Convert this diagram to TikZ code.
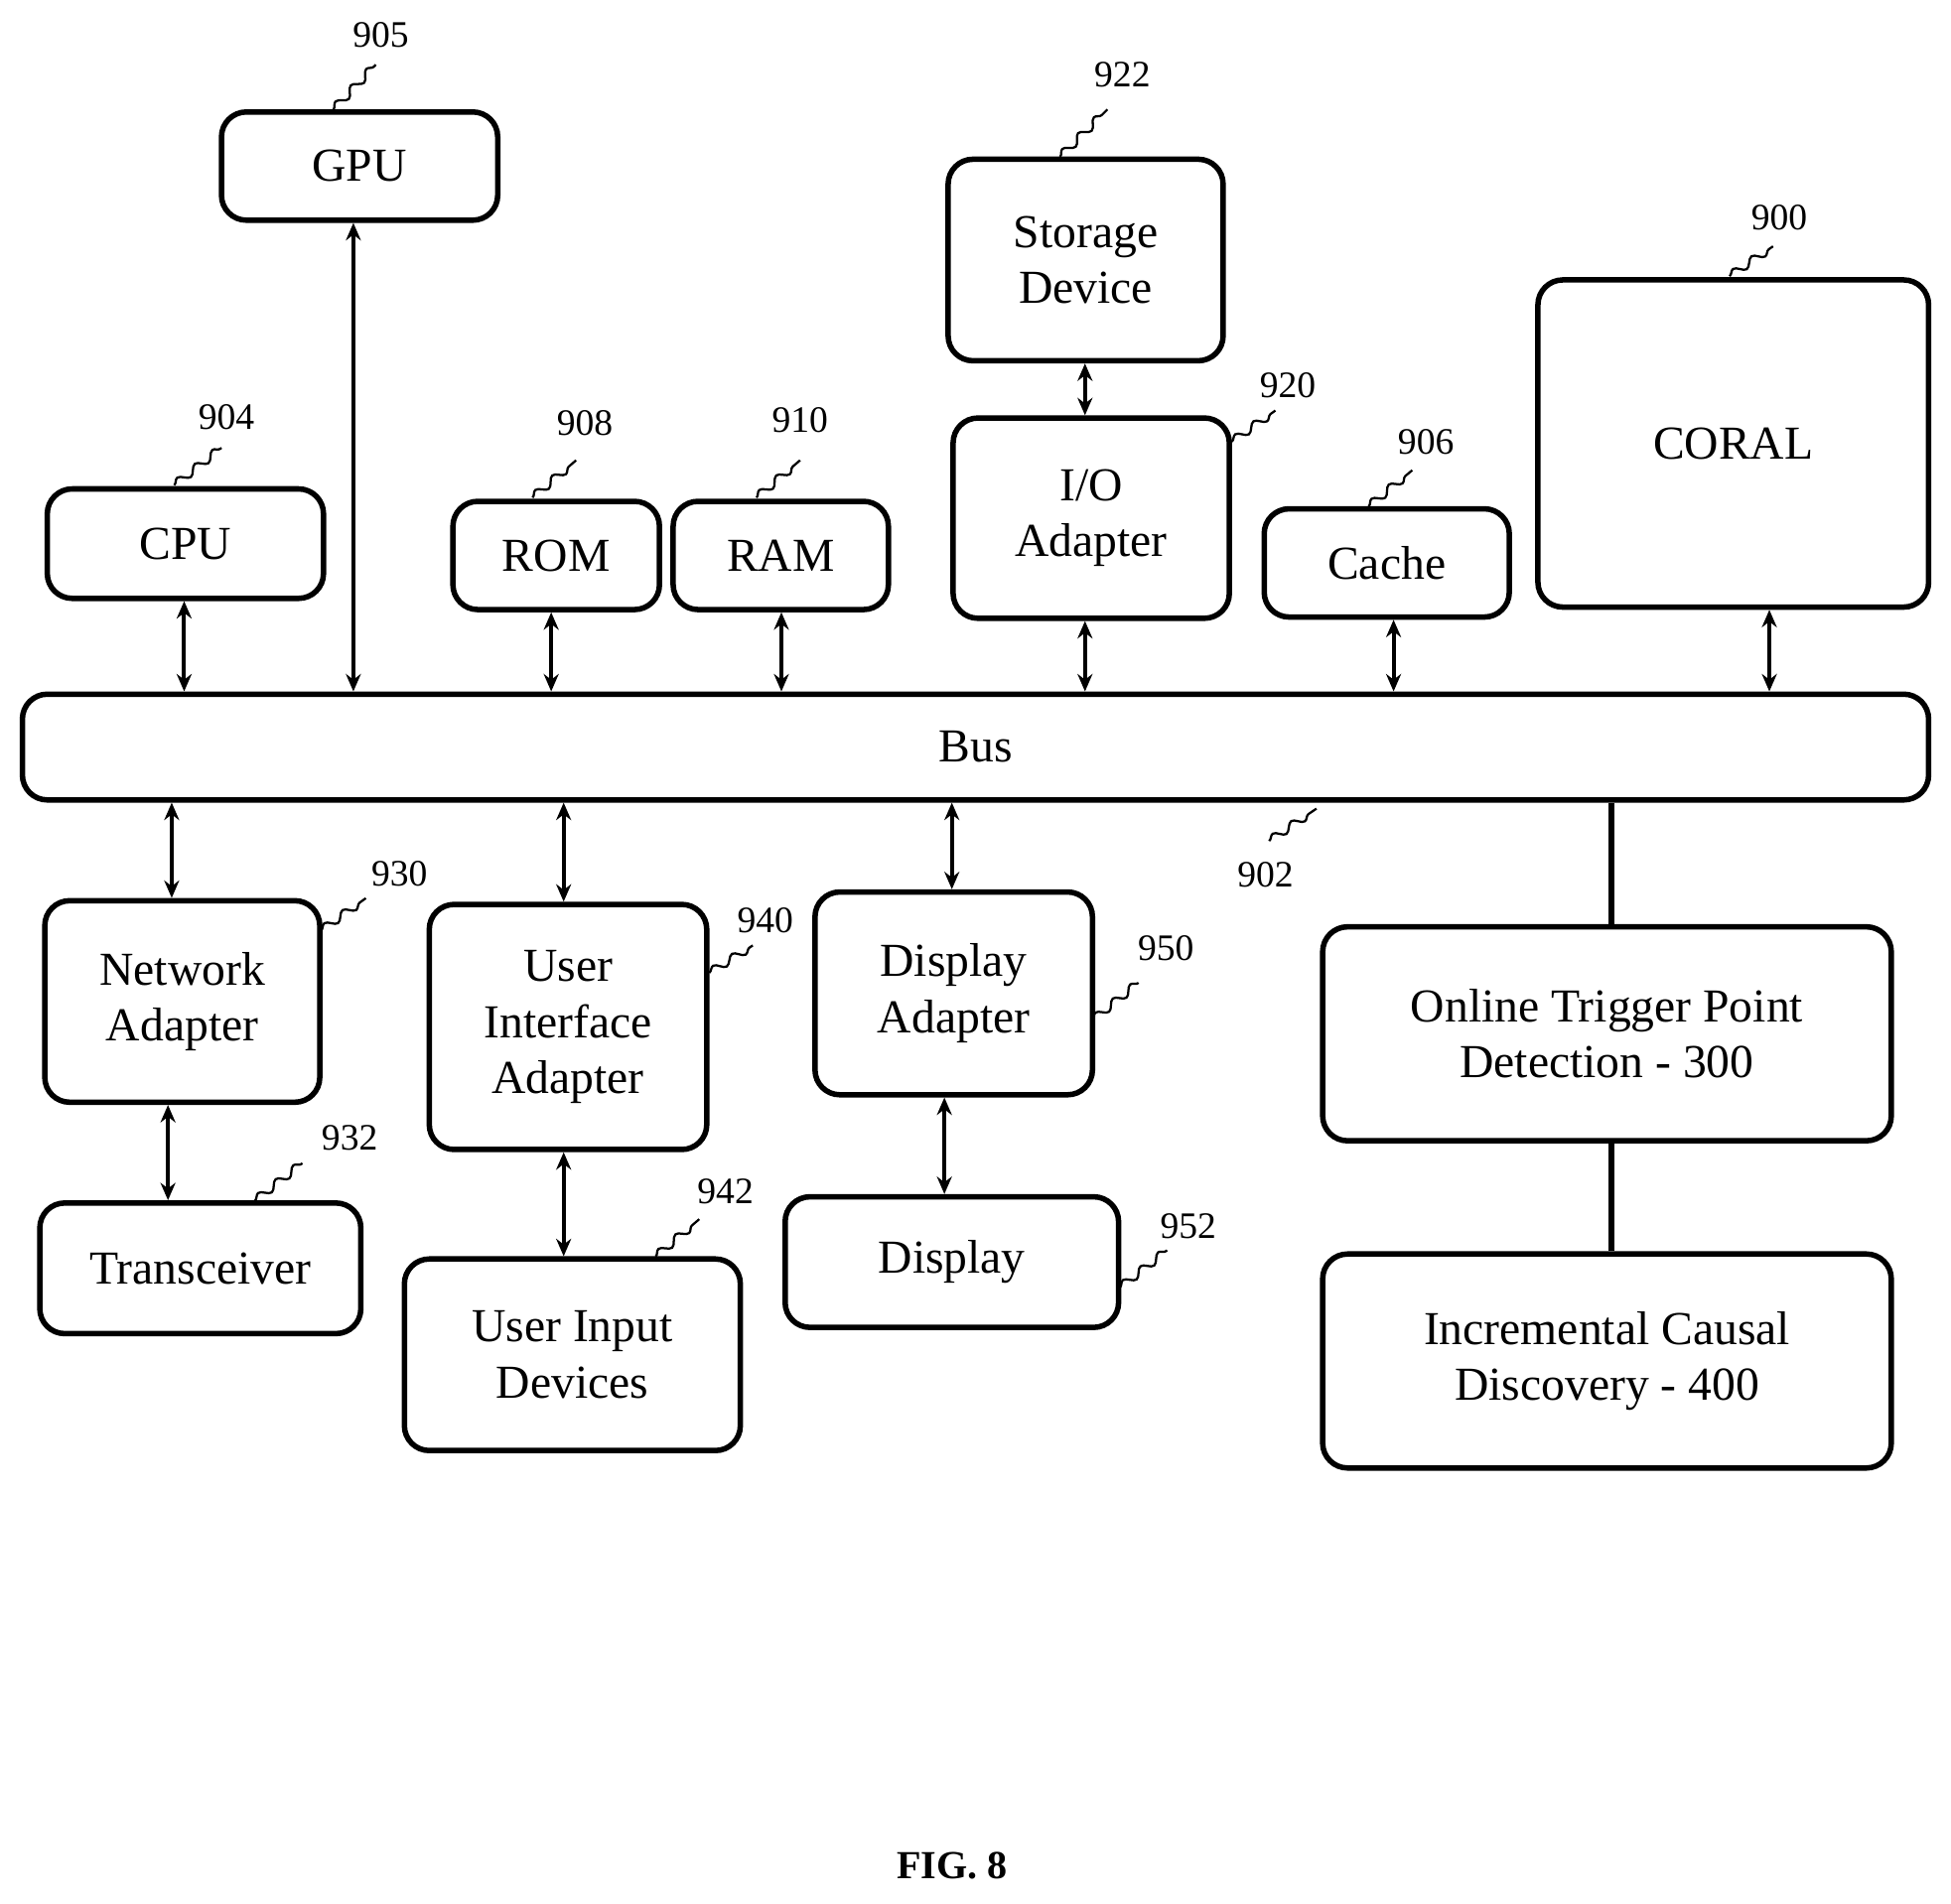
\documentclass[tikz,border=0pt]{standalone}
\usepackage{fontspec}
\setmainfont{Liberation Serif}
\usetikzlibrary{arrows.meta,decorations.pathmorphing}
\begin{document}
\begin{tikzpicture}[x=0.5pt,y=-0.5pt,
 box/.style={draw,line width=2.2pt,rounded corners=10pt,align=center,font=\fontsize{19}{22.5}\selectfont,inner sep=0pt},
 lab/.style={font=\fontsize{15}{17}\selectfont},
 arr/.style={line width=1.6pt,{Stealth[length=7pt,width=6pt]}-{Stealth[length=7pt,width=6pt]}},
 ln/.style={line width=2.4pt},
 sq/.style={line width=0.9pt,decorate,decoration={snake,amplitude=1.6pt,segment length=9pt}}]
\useasboundingbox (0,0) rectangle (1568,1530);
\newcommand\bx[6]{\node[box,minimum width={(#4-#2)*0.5pt},minimum height={(#5-#3)*0.5pt}] (#1) at ({(#2+#4)/2},{(#3+#5)/2}) {#6};}
\bx{gpu}{178}{90}{400}{177}{GPU}
\bx{cpu}{38}{393}{260}{481}{CPU}
\bx{rom}{364}{403}{530}{490}{ROM}
\bx{ram}{541}{403}{714}{490}{RAM}
\bx{sto}{762}{128}{983}{290}{Storage\\Device}
\bx{io}{766}{336}{988}{497}{I/O\\Adapter}
\bx{cache}{1016}{409}{1213}{496}{Cache}
\bx{coral}{1236}{225}{1550}{488}{CORAL}
\bx{bus}{18}{558}{1550}{643}{Bus}
\bx{net}{36}{724}{257}{886}{Network\\Adapter}
\bx{uia}{345}{727}{568}{924}{User\\Interface\\Adapter}
\bx{dia}{655}{717}{878}{880}{Display\\Adapter}
\bx{tra}{32}{967}{290}{1072}{Transceiver}
\bx{uin}{325}{1012}{595}{1166}{User Input\\Devices}
\bx{dis}{631}{962}{899}{1067}{Display}
\bx{onl}{1063}{745}{1520}{917}{Online Trigger Point\\Detection - 300}
\bx{inc}{1063}{1008}{1520}{1180}{Incremental Causal\\Discovery - 400}
\node[font=\bfseries\fontsize{16}{18}\selectfont] (fig) at (765,1500) {FIG. 8};
% connectors
\draw[arr] (cpu.south -| 148,0) -- (bus.north -| 148,0);
\draw[arr] (gpu.south -| 284,0) -- (bus.north -| 284,0);
\draw[arr] (rom.south -| 443,0) -- (bus.north -| 443,0);
\draw[arr] (ram.south -| 628,0) -- (bus.north -| 628,0);
\draw[arr] (io.south -| 872,0) -- (bus.north -| 872,0);
\draw[arr] (cache.south -| 1120,0) -- (bus.north -| 1120,0);
\draw[arr] (coral.south -| 1422,0) -- (bus.north -| 1422,0);
\draw[arr] (sto.south -| 872,0) -- (io.north -| 872,0);
\draw[arr] (bus.south -| 138,0) -- (net.north -| 138,0);
\draw[arr] (bus.south -| 453,0) -- (uia.north -| 453,0);
\draw[arr] (bus.south -| 765,0) -- (dia.north -| 765,0);
\draw[arr] (net.south -| 135,0) -- (tra.north -| 135,0);
\draw[arr] (uia.south -| 453,0) -- (uin.north -| 453,0);
\draw[arr] (dia.south -| 759,0) -- (dis.north -| 759,0);
\draw[ln] (bus.south -| 1295,0) -- (onl.north -| 1295,0);
\draw[ln] (onl.south -| 1295,0) -- (inc.north -| 1295,0);
% labels
\newcommand\lb[7]{\node[lab] (#1) at (#2,#3) {#1}; \draw[sq] (#4,#5) -- (#6,#7);}
\lb{905}{306}{28}{268}{88}{302}{52}
\lb{922}{902}{60}{852}{126}{890}{88}
\lb{900}{1430}{175}{1390}{222}{1425}{198}
\lb{904}{182}{335}{140}{390}{178}{360}
\lb{908}{470}{340}{428}{400}{463}{370}
\lb{910}{643}{338}{608}{400}{643}{370}
\lb{920}{1035}{310}{990}{355}{1025}{330}
\lb{906}{1146}{355}{1100}{407}{1135}{378}
\lb{902}{1017}{703}{1020}{676}{1058}{650}
\lb{930}{321}{702}{258}{748}{294}{722}
\lb{940}{615}{740}{570}{782}{605}{760}
\lb{950}{937}{762}{878}{820}{915}{790}
\lb{932}{281}{915}{205}{965}{243}{935}
\lb{942}{583}{958}{527}{1010}{562}{980}
\lb{952}{955}{986}{900}{1035}{938}{1005}
\end{tikzpicture}
\end{document}
